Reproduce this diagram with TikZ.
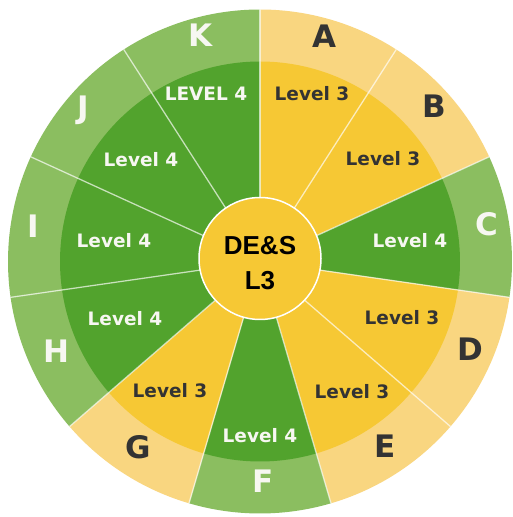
\documentclass[tikz,border=0pt]{standalone}
\usepackage{fontspec}
\setmainfont{DejaVu Sans}
\newfontfamily\centerfont{Liberation Sans}
\definecolor{ly}{HTML}{F9D680}
\definecolor{dy}{HTML}{F6C834}
\definecolor{lg}{HTML}{8BBE60}
\definecolor{dg}{HTML}{52A32D}
\definecolor{txtdark}{HTML}{333333}
\definecolor{txtlight}{HTML}{F7F7F2}
\begin{document}
\begin{tikzpicture}[x=1pt,y=1pt,
  sep/.style={draw=white,draw opacity=0.65,line width=1.3pt},
  lvl/.style={font=\bfseries\fontsize{18.5}{20}\selectfont,inner sep=0pt,text height=0.73em,text depth=0pt},
  letter/.style={font=\bfseries\fontsize{31}{34}\selectfont,inner sep=0pt,text height=0.73em,text depth=0pt},
  dk/.style={text=txtdark},
  wt/.style={text=txtlight},
  hub/.style={circle,fill=dy,draw=white,line width=1.5pt,minimum size=122pt,inner sep=0pt},
  hubtext/.style={font=\centerfont\bfseries\fontsize{26}{28}\selectfont,text=black,inner sep=0pt,text height=0.72em,text depth=0pt}]
\useasboundingbox (0,0) rectangle (512,517);
\fill[white] (0,0) rectangle (512,517);
\coordinate (c) at (260,255.5);
\foreach \i/\oc/\ic in {0/ly/dy,1/ly/dy,2/lg/dg,3/ly/dy,4/ly/dy,5/lg/dg,6/ly/dy,7/lg/dg,8/lg/dg,9/lg/dg,10/lg/dg}{
  \pgfmathsetmacro\a{90-\i*360/11}
  \pgfmathsetmacro\b{90-(\i+1)*360/11}
  \fill[\oc] (c) -- ++(\a:252) arc[start angle=\a,end angle=\b,radius=252] -- cycle;
  \fill[\ic] (c) -- ++(\a:200) arc[start angle=\a,end angle=\b,radius=200] -- cycle;
}
\foreach \i in {0,...,10}{
  \draw[sep] (c) -- ++({90-\i*360/11}:252);
}
% inner labels
\node[lvl,dk] (la) at (312,420) {Level 3};
\node[lvl,dk] (lb) at (383,355) {Level 3};
\node[lvl,wt] (lc) at (410,273) {Level 4};
\node[lvl,dk] (ld) at (402,196) {Level 3};
\node[lvl,dk] (le) at (352,122) {Level 3};
\node[lvl,wt] (lf) at (260,78) {Level 4};
\node[lvl,dk] (lgg) at (170,123) {Level 3};
\node[lvl,wt] (lh) at (125,195) {Level 4};
\node[lvl,wt] (li) at (114,273) {Level 4};
\node[lvl,wt] (lj) at (141,354) {Level 4};
\node[lvl,wt] (lk) at (206,420) {LEVEL 4};
% outer letters
\node[letter,dk] (oa) at (324,473) {A};
\node[letter,dk] (ob) at (434,403) {B};
\node[letter,wt] (oc) at (487,285) {C};
\node[letter,dk] (od) at (470,160) {D};
\node[letter,dk] (oe) at (385,63) {E};
\node[letter,wt] (of) at (263,28) {F};
\node[letter,dk] (og) at (138,62) {G};
\node[letter,wt] (oh) at (56,158) {H};
\node[letter,wt] (oi) at (33,283) {I};
\node[letter,wt] (oj) at (83,402) {J};
\node[letter,wt] (ok) at (201,474) {K};
% hub
\node[hub] (hub) at (260,258.5) {};
\node[hubtext] (h1) at (260,266) {DE\&S};
\node[hubtext] (h2) at (260,231) {L3};
\end{tikzpicture}
\end{document}
